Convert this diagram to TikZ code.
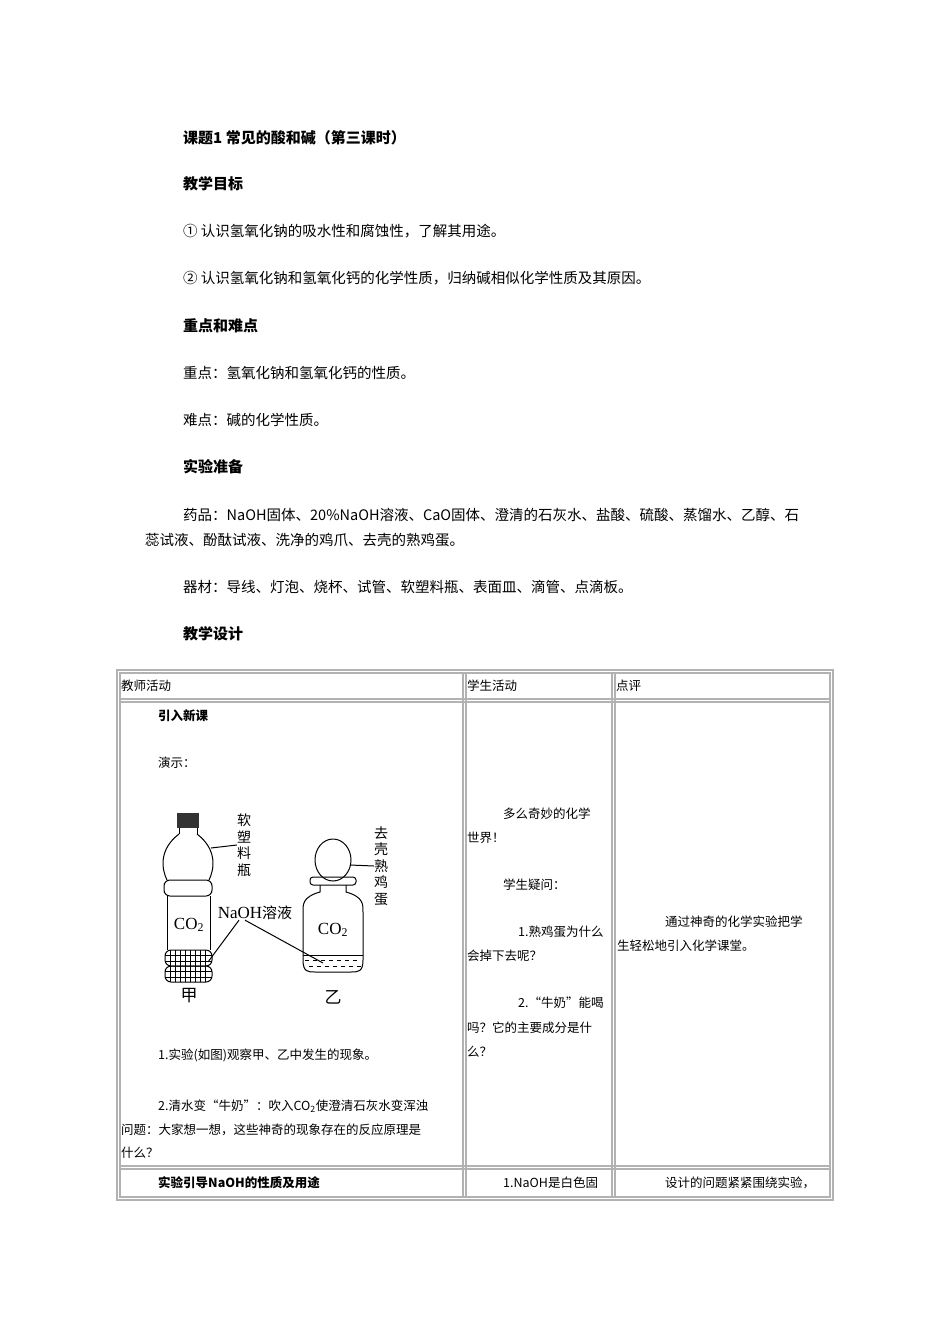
\documentclass[tikz,border=0pt]{standalone}
\usepackage{fontspec}
\setmainfont{Noto Sans CJK SC}
\newfontfamily\serf{Liberation Serif}
\begin{document}
\begin{tikzpicture}[x=1pt,y=-1pt,
  txt/.style={anchor=west,inner sep=0pt,font=\fontsize{14.5}{16}\selectfont},
  hd/.style={txt,font=\fontsize{15}{16}\selectfont\bfseries},
  tt/.style={anchor=west,inner sep=0pt,font=\fontsize{12.5}{14}\selectfont},
  tb/.style={tt,font=\fontsize{12.5}{14}\selectfont\bfseries},
  grid/.style={draw=black!30,line width=1.2pt},
  fig/.style={line width=1pt},
  lab/.style={inner sep=0pt,font=\fontsize{15}{17}\selectfont},
  vlab/.style={inner sep=0pt,align=center,font=\fontsize{14}{16.5}\selectfont}]
\useasboundingbox (0,0) rectangle (950,1344);
\fill[white] (0,0) rectangle (950,1344);
% heading text
\node[hd] (t0) at (183,138) {课题1 常见的酸和碱（第三课时）};
\node[hd] (t1) at (183,184) {教学目标};
\node[txt] (t2) at (183,231) {① 认识氢氧化钠的吸水性和腐蚀性，了解其用途。};
\node[txt] (t3) at (183,278) {② 认识氢氧化钠和氢氧化钙的化学性质，归纳碱相似化学性质及其原因。};
\node[hd] (t4) at (183,326) {重点和难点};
\node[txt] (t5) at (183,373) {重点：氢氧化钠和氢氧化钙的性质。};
\node[txt] (t6) at (183,420) {难点：碱的化学性质。};
\node[hd] (t7) at (183,467) {实验准备};
\node[txt] (t8) at (183,515) {药品：NaOH固体、20\%NaOH溶液、CaO固体、澄清的石灰水、盐酸、硫酸、蒸馏水、乙醇、石};
\node[txt] (t9) at (145,540) {蕊试液、酚酞试液、洗净的鸡爪、去壳的熟鸡蛋。};
\node[txt] (t10) at (183,587) {器材：导线、灯泡、烧杯、试管、软塑料瓶、表面皿、滴管、点滴板。};
\node[hd] (t11) at (183,634) {教学设计};
% table
\draw[grid] (117,670) rectangle (833,1200);
\draw[grid] (120,673) rectangle (830,1197);
\draw[grid] (120,699) -- (830,699);
\draw[grid] (120,702) -- (830,702);
\draw[grid] (120,1166) -- (830,1166);
\draw[grid] (120,1169) -- (830,1169);
\draw[grid] (463,673) -- (463,1197); \draw[grid] (466,673) -- (466,1197);
\draw[grid] (612,673) -- (612,1197); \draw[grid] (615,673) -- (615,1197);
\node[tt] (h1) at (121,686) {教师活动};
\node[tt] (h2) at (467,686) {学生活动};
\node[tt] (h3) at (616,686) {点评};
\node[tb] (a1) at (158,716) {引入新课};
\node[tt] (a2) at (158,763) {演示：};
\node[tt] (a3) at (158,1055) {1.实验(如图)观察甲、乙中发生的现象。};
\node[tt] (a4) at (158,1106) {2.清水变“牛奶”：吹入CO\textsubscript{2}使澄清石灰水变浑浊};
\node[tt] (a5) at (121,1130) {问题：大家想一想，这些神奇的现象存在的反应原理是};
\node[tt] (a6) at (121,1153) {什么？};
\node[tb] (a7) at (158,1183) {实验引导NaOH的性质及用途};
\node[tt] (b1) at (503,814) {多么奇妙的化学};
\node[tt] (b2) at (467,838) {世界！};
\node[tt] (b3) at (503,885) {学生疑问：};
\node[tt] (b4) at (518,932) {1.熟鸡蛋为什么};
\node[tt] (b5) at (467,956) {会掉下去呢？};
\node[tt] (b6) at (518,1003) {2.“牛奶”能喝};
\node[tt] (b7) at (467,1028) {吗？它的主要成分是什};
\node[tt] (b8) at (467,1052) {么？};
\node[tt] (b9) at (503,1183) {1.NaOH是白色固};
\node[tt] (c1) at (665,922) {通过神奇的化学实验把学};
\node[tt] (c2) at (617,946) {生轻松地引入化学课堂。};
\node[tt] (c3) at (665,1183) {设计的问题紧紧围绕实验，};
% figure: bottle jia
\fill[black!80] (177,813) rectangle (199,828);
\draw[fig] (179,828) -- (179,834) (197,828) -- (197,834);
\draw[fig] (179,834) .. controls (158,850) and (162,870) .. (167,880)
  (197,834) .. controls (218,850) and (214,870) .. (209,880);
\draw[fig,rounded corners=6pt] (164,880) rectangle (212,896);
\draw[fig] (167,896) -- (167,950) (210,896) -- (210,950);
\begin{scope}
\clip[rounded corners=6pt] (165,950) rectangle (212,966) (165,966) rectangle (212,982);
\foreach \yy in {955,961,971,977} \draw[line width=0.5pt] (164,\yy) -- (213,\yy);
\foreach \xx in {170,175,...,208} \draw[line width=0.5pt] (\xx,949) -- (\xx,983);
\end{scope}
\draw[fig,rounded corners=6pt] (165,950) rectangle (212,966);
\draw[fig,rounded corners=6pt] (165,966) rectangle (212,982);
\node[lab,font=\serf\fontsize{17}{19}\selectfont] (co1) at (189,925) {CO\textsubscript{2}};
\node[vlab] (l1) at (244,845) {软\\塑\\料\\瓶};
\coordinate (p1) at (211,848);
\draw[fig] (p1) -- (l1.west);
\node[lab] (naoh) at (255,913) {{\serf\fontsize{17}{19}\selectfont NaOH}溶液};
\coordinate (d1) at (208,962); \coordinate (d2) at (323,963);
\draw[fig] (naoh.south) ++(-16,0) coordinate (n1) -- (d1);
\draw[fig] (n1) ++(6,0) -- (d2);
\node[lab,font=\fontsize{17}{19}\selectfont] (jia) at (189,996) {甲};
% bottle yi
\draw[fig] (333,860) ellipse (18 and 21);
\draw[fig,rounded corners=3pt] (310,877) rectangle (356,885);
\draw[fig] (320,885) -- (320,892) .. controls (302,897) and (303,905) .. (303,912)
  -- (303,960) .. controls (303,972) and (308,972) .. (315,972) -- (351,972)
  .. controls (358,972) and (363,972) .. (363,960) -- (363,912)
  .. controls (363,905) and (364,897) .. (346,892) -- (346,885);
\draw[fig] (303,955) -- (363,955);
\foreach \yy/\s in {960/305,966/309} \foreach \xx in {0,8,...,48} \draw[line width=0.6pt] (\s+\xx,\yy) -- (\s+\xx+4,\yy);
\node[lab,font=\serf\fontsize{17}{19}\selectfont] (co2) at (333,930) {CO\textsubscript{2}};
\node[vlab] (l2) at (381,866) {去\\壳\\熟\\鸡\\蛋};
\coordinate (p2) at (350,865);
\draw[fig] (p2) -- (l2.west);
\node[lab,font=\fontsize{17}{19}\selectfont] (yi) at (333,997) {乙};
\end{tikzpicture}
\end{document}
